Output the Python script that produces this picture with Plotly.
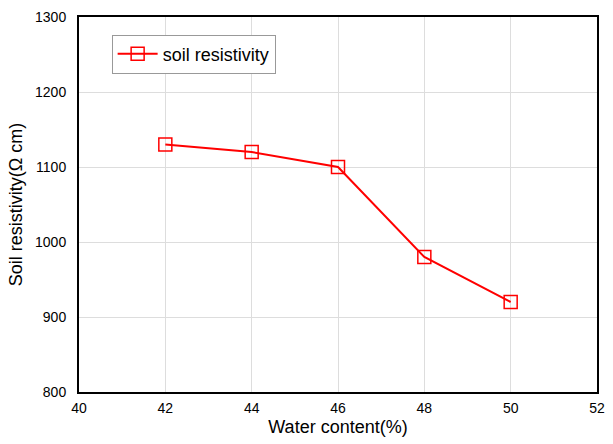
import plotly.graph_objects as go

water_content = [42, 44, 46, 48, 50]
resistivity = [1130, 1120, 1100, 980, 920]
x_ticks = [40, 42, 44, 46, 48, 50, 52]
y_ticks = [800, 900, 1000, 1100, 1200, 1300]

FONT = "Liberation Sans, Arial"

fig = go.Figure()
fig.add_trace(go.Scatter(
    x=water_content, y=resistivity, mode="lines+markers",
    name="soil resistivity",
    line=dict(color="#ff0000", width=2),
    marker=dict(symbol="square-open", size=13, color="#ff0000", line=dict(width=1.5)),
))

axis_common = dict(
    showline=True, linecolor="black", linewidth=2, mirror=True,
    showgrid=True, gridcolor="#dddddd", gridwidth=1,
    ticks="", zeroline=False,
    tickfont=dict(family=FONT, size=14, color="black"),
)
fig.update_xaxes(range=[40, 52], tickvals=x_ticks,
                 title=dict(text="Water content(%)", font=dict(family=FONT, size=18, color="black"), standoff=6),
                 ticklabelstandoff=2,
                 **axis_common)
fig.update_yaxes(range=[800, 1300], tickvals=y_ticks,
                 title=dict(text="Soil resistivity(Ω cm)", font=dict(family=FONT, size=18, color="black"), standoff=8),
                 ticklabelstandoff=8,
                 **axis_common)

fig.update_layout(
    width=613, height=444,
    margin=dict(l=79, r=8, t=17, b=52),
    plot_bgcolor="white", paper_bgcolor="white",
    showlegend=True,
    legend=dict(x=0.063, y=0.901, xanchor="left", yanchor="middle",
                bordercolor="#999999", borderwidth=1, bgcolor="white",
                font=dict(family=FONT, size=18, color="black"),
                itemwidth=40),
)
fig.write_html("out.html")
